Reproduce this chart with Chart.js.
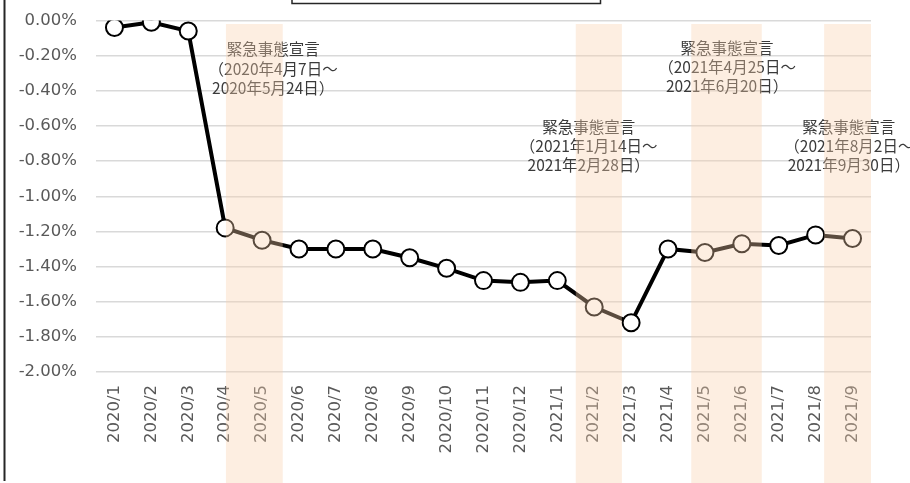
<!DOCTYPE html>
<html>
<head>
<meta charset="utf-8">
<script src="https://cdn.jsdelivr.net/npm/chart.js@4"></script>
<style>
  html, body { margin: 0; padding: 0; background: #fff; }
  #wrap { width: 910px; height: 483px; position: relative; }
</style>
</head>
<body>
<div id="wrap"><canvas id="chart"></canvas></div>
<script>
// months on the category axis
const months = [
    '2020/1', '2020/2', '2020/3', '2020/4', '2020/5', '2020/6', '2020/7', '2020/8', '2020/9',
    '2020/10', '2020/11', '2020/12', '2021/1', '2021/2', '2021/3', '2021/4', '2021/5',
    '2021/6', '2021/7', '2021/8', '2021/9'
];

// change rate (%) per month
const rates = [
    -0.04, -0.01, -0.06, -1.18, -1.25, -1.30, -1.30, -1.30, -1.35,
    -1.41, -1.48, -1.49, -1.48, -1.63, -1.72, -1.30, -1.32,
    -1.27, -1.28, -1.22, -1.24
];

// y axis range
const yMin = -2.0;
const yMax = 0.0;
const yStep = 0.2;

// emergency declaration periods, in category index units
const shadeFrom = [3.02, 12.5, 15.63, 19.23];
const shadeTo = [4.56, 13.75, 17.54, 20.5];

// notes above each period: lines, anchor month index and value of first line
const noteLines = [
    ['緊急事態宣言', '（2020年4月7日～', '2020年5月24日）'],
    ['緊急事態宣言', '（2021年1月14日～', '2021年2月28日）'],
    ['緊急事態宣言', '（2021年4月25日～', '2021年6月20日）'],
    ['緊急事態宣言', '（2021年8月2日～', '2021年9月30日）']
];
const noteAt = [4.3, 12.85, 16.6, 19.9];
const noteValue = [-0.165, -0.605, -0.155, -0.605];

const tickColor = '#595959';
const tickFont = '"DejaVu Sans", sans-serif';

const notesPlugin = {
    id: 'notes',
    afterDatasetsDraw(chart) {
        const ctx = chart.ctx;
        const x = chart.scales.x;
        const y = chart.scales.y;
        ctx.save();
        ctx.fillStyle = '#3a3a3a';
        ctx.font = '15.5px "Noto Sans CJK JP", sans-serif';
        ctx.textAlign = 'center';
        ctx.textBaseline = 'middle';
        noteLines.forEach((lines, i) => {
            const cx = x.getPixelForValue(noteAt[i]);
            const cy = y.getPixelForValue(noteValue[i]);
            lines.forEach((line, j) => {
                ctx.fillText(line, cx, cy + j * 19.3);
            });
        });
        ctx.restore();
    }
};

const shadePlugin = {
    id: 'shade',
    afterDraw(chart) {
        const ctx = chart.ctx;
        const x = chart.scales.x;
        ctx.save();
        ctx.fillStyle = 'rgba(250, 208, 172, 0.36)';
        shadeFrom.forEach((from, i) => {
            const x0 = x.getPixelForValue(from);
            const x1 = x.getPixelForValue(shadeTo[i]);
            ctx.fillRect(x0, 24, x1 - x0, chart.height - 24);
        });

        // frame leftovers: left border and bottom of the title box
        ctx.strokeStyle = '#262626';
        ctx.lineWidth = 2;
        ctx.beginPath();
        ctx.moveTo(4.5, 0);
        ctx.lineTo(4.5, 481);
        ctx.stroke();
        ctx.lineWidth = 1.5;
        ctx.strokeRect(292, -6, 308.5, 9.5);
        ctx.restore();
    }
};

new Chart(document.getElementById('chart'), {
    type: 'line',
    data: {
        labels: months,
        datasets: [{
            data: rates,
            borderColor: '#000',
            borderWidth: 4,
            pointRadius: 8.5,
            pointBorderWidth: 2,
            pointBackgroundColor: '#fff',
            pointBorderColor: '#000',
            tension: 0
        }]
    },
    options: {
        responsive: true,
        maintainAspectRatio: false,
        animation: false,
        layout: {
            padding: { left: 0, right: 39, top: 20.5, bottom: 0 }
        },
        plugins: {
            legend: { display: false },
            tooltip: { enabled: false }
        },
        scales: {
            x: {
                offset: true,
                grid: { display: false, drawTicks: false },
                border: { display: false },
                ticks: {
                    autoSkip: false,
                    minRotation: 90,
                    maxRotation: 90,
                    padding: 13,
                    color: tickColor,
                    font: { family: tickFont, size: 16.5 }
                },
                afterFit(scale) {
                    scale.height = 111;
                }
            },
            y: {
                min: yMin,
                max: yMax,
                grid: { color: '#d9d9d9', lineWidth: 1.5, drawTicks: false },
                border: { display: false },
                ticks: {
                    stepSize: yStep,
                    padding: 19,
                    color: tickColor,
                    font: { family: tickFont, size: 16.5 },
                    callback: v => v.toFixed(2) + '%'
                },
                afterFit(scale) {
                    scale.width = 96;
                    scale.paddingTop = 0;
                    scale.paddingBottom = 0;
                }
            }
        }
    },
    plugins: [notesPlugin, shadePlugin]
});
</script>
</body>
</html>
